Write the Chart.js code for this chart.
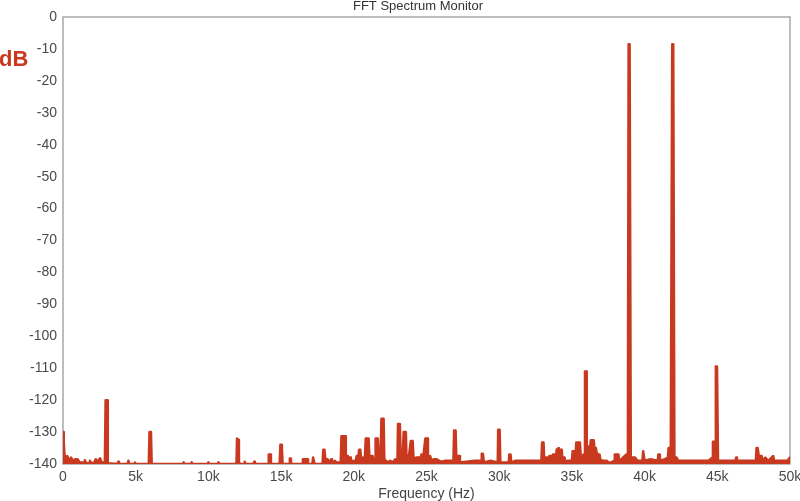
<!DOCTYPE html>
<html>
<head>
<meta charset="utf-8">
<script src="https://cdn.jsdelivr.net/npm/chart.js@4.4.1/dist/chart.umd.min.js"></script>
<style>
  html, body { margin: 0; padding: 0; background: #fff; }
  #wrap { width: 800px; height: 501px; }
</style>
</head>
<body>
<div id="wrap"><canvas id="fft"></canvas></div>
<script>
// spectrum, in three bands: frequency in kHz, level in dB
const lowBandKHz = [
  0, 0.05, 0.1, 0.2, 0.3, 0.4, 0.55, 0.7, 0.85, 1.0, 1.15, 1.45, 1.5, 1.6, 1.8, 1.85, 1.95,
  2.15, 2.25, 2.35, 2.45, 2.55, 2.65, 2.88, 2.93, 3.03, 3.08, 3.75, 3.8, 3.85, 4.45, 4.5, 4.55,
  4.9, 4.95, 5.0, 5.9, 5.95, 6.05, 6.1, 8.25, 8.3, 8.35, 8.8, 8.85, 8.9, 9.95, 10.0, 10.05,
  10.65, 10.7, 10.75, 11.93, 11.97, 12.05, 12.1, 12.2, 12.45, 12.5, 12.55, 13.1, 13.15, 13.2,
  14.1, 14.15, 14.25, 14.3, 14.9, 14.95, 15.05, 15.1, 15.55, 15.6, 15.67, 15.7, 16.45, 16.5,
  16.8, 16.85, 17.15, 17.2, 17.25, 17.3, 17.85, 17.9, 17.98, 18.05, 18.2, 18.3, 18.45
];
const lowBandDb = [
  -130, -133, -137, -138.5, -137.5, -139, -138, -139, -138.5, -138.5, -139.5, -139.5, -138.8, -139.8, -139.8, -139, -139.8,
  -139.5, -138.5, -139.3, -138.8, -138.2, -139.5, -139.5, -120, -120, -139.8, -140, -139.3, -140, -140, -139, -140,
  -140, -139.5, -140, -140, -130, -130, -140, -140, -139.5, -140, -140, -139.5, -140, -140, -139.5, -140,
  -140, -139.5, -140, -140, -132, -132.5, -139.5, -140, -140, -139.3, -140, -140, -139.3, -140,
  -140, -137, -137, -140, -140, -134, -134, -140, -140, -138.3, -138.3, -140, -140, -138.5,
  -138.5, -140, -140, -138, -138, -140, -140, -135.5, -135.5, -138.8, -138.5, -139.5, -138.5
];

const midBandKHz = [
  18.5, 18.6, 18.7, 18.8, 19.1, 19.15, 19.4, 19.45, 19.55, 19.6, 19.75, 19.8, 19.95, 20.1,
  20.2, 20.3, 20.37, 20.45, 20.5, 20.65, 20.75, 20.82, 21.02, 21.08, 21.15, 21.3, 21.35, 21.47,
  21.5, 21.65, 21.7, 21.85, 21.9, 22.05, 22.1, 22.3, 22.5, 22.7, 22.85, 23.0, 23.04, 23.17,
  23.22, 23.35, 23.43, 23.58, 23.62, 23.75, 23.92, 24.05, 24.1, 24.2, 24.3, 24.55, 24.6, 24.65,
  24.75, 24.92, 25.05, 25.1, 25.25, 25.35, 25.5, 25.7, 26.0, 26.3, 26.85, 26.9, 27.0, 27.05,
  27.25, 27.3, 28.3, 28.75, 28.8, 28.88, 28.95, 29.4, 29.9, 29.93, 30.03, 30.08, 30.65, 30.7,
  30.78, 30.83, 31.1, 31.65, 32.2
];
const midBandDb = [
  -139, -139.5, -139, -139.5, -139.5, -131.3, -131.3, -137.5, -137.5, -138, -138, -139.5, -139, -139.5,
  -137.5, -138, -135.5, -135.5, -138.5, -138, -139, -132, -132, -138.5, -137.5, -137.5, -139, -139,
  -132, -132, -136, -136, -125.8, -125.8, -138.5, -139.5, -139, -139.5, -138.5, -139.3, -127.5, -127.5,
  -138, -139, -130, -130, -137, -139, -132.8, -132.8, -137.5, -139, -138, -138, -139, -137,
  -139, -132, -132, -139, -137.5, -139, -138.5, -138.5, -139.3, -139, -139, -129.5, -129.5, -137.5,
  -137.5, -139.5, -139, -139, -136.8, -136.8, -139.5, -139, -139.5, -129.3, -129.3, -139.5, -139.5, -137,
  -137, -139.5, -139, -139, -139
];

const highBandKHz = [
  32.9, 32.95, 33.05, 33.1, 33.2, 33.3, 33.38, 33.45, 33.6, 33.65, 33.7, 33.85, 33.9, 33.95,
  34.1, 34.2, 34.3, 34.35, 34.4, 34.5, 34.55, 34.7, 35.0, 35.05, 35.2, 35.25, 35.3, 35.55,
  35.6, 35.7, 35.8, 35.88, 35.9, 36.0, 36.02, 36.08, 36.15, 36.2, 36.3, 36.5, 36.55, 36.65,
  36.7, 36.8, 36.9, 36.95, 37.1, 37.4, 37.5, 37.7, 37.9, 37.95, 38.2, 38.25, 38.4, 38.75,
  38.85, 38.9, 38.97, 39.05, 39.35, 39.5, 39.85, 39.9, 39.95, 40.0, 40.4, 40.9, 40.95, 41.0,
  41.05, 41.4, 41.6, 41.65, 41.8, 41.9, 41.97, 42.05, 42.2, 42.3, 43.0, 43.6, 44.4, 44.65,
  44.7, 44.85, 44.9, 44.98, 45.05, 45.5, 46.25, 46.3, 46.35, 47.0, 47.65, 47.7, 47.78, 47.85,
  48.05, 48.1, 48.3, 48.5, 48.85, 48.9, 49.3, 49.85, 49.9, 50.0
];
const highBandDb = [
  -139, -133.3, -133.3, -139, -138, -138, -139.5, -137.5, -137.5, -139, -137, -137, -139, -135.5,
  -135, -136, -135.5, -138.5, -138, -138, -139.5, -139, -139, -136, -136, -137.5, -133.3, -133.3,
  -137, -138, -137, -137, -111, -111, -136, -134.5, -134.5, -137, -132.6, -132.6, -135, -135,
  -136.5, -137, -137, -138.5, -139, -139, -139.5, -139.5, -139, -137, -137, -139, -138.5, -137,
  -137, -8.5, -8.5, -138, -138, -139, -139, -136, -136, -139, -138.5, -139, -137, -137,
  -139, -138.5, -138, -135, -135, -8.5, -8.5, -138, -138, -139, -139, -139, -139, -138,
  -133, -133, -109.5, -109.5, -139, -139, -139, -138, -139, -139, -139, -135, -135, -137.5,
  -137.5, -139, -138, -139, -137.5, -139, -139, -139, -138.5, -138
];

const xTicksKHz = [0, 5, 10, 15, 20, 25, 30, 35, 40, 45, 50];
const yTicksDb = [0, -10, -20, -30, -40, -50, -60, -70, -80, -90, -100, -110, -120, -130, -140];

const red = '#c8391f';
const font = 'Liberation Sans, Arial, Helvetica, sans-serif';

const freqKHz = lowBandKHz.concat(midBandKHz, highBandKHz);
const levelDb = lowBandDb.concat(midBandDb, highBandDb);
const points = freqKHz.map((f, i) => ({ x: f, y: levelDb[i] }));

const frame = {
  id: 'frame',
  beforeDatasetsDraw(chart) {
    const a = chart.chartArea, c = chart.ctx;
    c.save();
    c.strokeStyle = '#a8a8a8';
    c.lineWidth = 1.5;
    c.strokeRect(a.left, a.top, a.right - a.left, a.bottom - a.top);
    c.restore();
  },
  afterDraw(chart) {
    const c = chart.ctx;
    c.save();
    c.fillStyle = '#333';
    c.font = '13px ' + font;
    c.textAlign = 'center';
    c.textBaseline = 'alphabetic';
    c.fillText('FFT Spectrum Monitor', 418, 10);
    c.fillStyle = red;
    c.font = 'bold 22px ' + font;
    c.textAlign = 'left';
    c.fillText('dB', -1, 66);
    c.restore();
  }
};

new Chart(document.getElementById('fft'), {
  type: 'line',
  data: {
    datasets: [{
      data: points,
      borderColor: red,
      backgroundColor: red,
      borderWidth: 2.5,
      borderJoinStyle: 'round',
      borderCapStyle: 'round',
      pointRadius: 0,
      tension: 0,
      fill: { value: -140 }
    }]
  },
  options: {
    responsive: true,
    maintainAspectRatio: false,
    animation: false,
    layout: { padding: { top: 17, right: 10, left: 0, bottom: 0 } },
    plugins: { legend: { display: false }, tooltip: { enabled: false }, title: { display: false } },
    scales: {
      x: {
        type: 'linear',
        min: 0,
        max: 50,
        grid: { display: false, drawTicks: false },
        border: { display: false },
        afterBuildTicks: s => { s.ticks = xTicksKHz.map(v => ({ value: v })); },
        ticks: {
          color: '#4a4a4a',
          font: { family: font, size: 14 },
          padding: 5,
          maxRotation: 0,
          callback: v => v === 0 ? '0' : v + 'k'
        },
        title: {
          display: true,
          text: 'Frequency (Hz)',
          color: '#444',
          font: { family: font, size: 14 },
          padding: { top: 0, bottom: -2 }
        },
        afterFit: s => { s.height = 37; s.paddingLeft = 0; s.paddingRight = 10; }
      },
      y: {
        min: -140,
        max: 0,
        grid: { display: false, drawTicks: false },
        border: { display: false },
        afterBuildTicks: s => { s.ticks = yTicksDb.map(v => ({ value: v })); },
        ticks: {
          color: '#4a4a4a',
          font: { family: font, size: 14 },
          padding: 6
        },
        afterFit: s => { s.width = 63; }
      }
    }
  },
  plugins: [frame]
});
</script>
</body>
</html>
